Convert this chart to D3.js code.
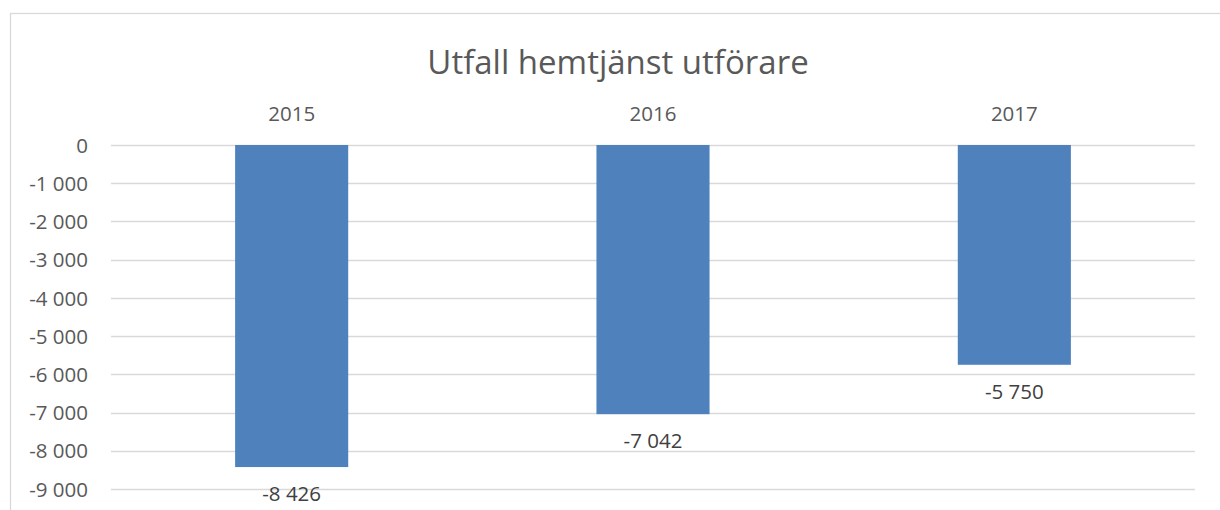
<!DOCTYPE html>
<html><head><meta charset="utf-8">
<script src="https://cdn.jsdelivr.net/npm/d3@7"></script>
<style>body{margin:0;background:#fff;} svg{display:block;} text{font-family:"Open Sans",sans-serif;}</style>
</head><body>
<svg id="c" width="1220" height="510"></svg>
<script>
const title = "Utfall hemtjänst utförare";
const categories = ["2015", "2016", "2017"];
const values = [-8426, -7042, -5750];
const yTicks = [0, -1000, -2000, -3000, -4000, -5000, -6000, -7000, -8000, -9000];

const svg = d3.select("#c");
const margin = {left: 111, right: 25};
const W = 1220;

// outer frame
svg.append("rect").attr("x", 10.5).attr("y", 13.5).attr("width", 1240).attr("height", 560)
  .attr("fill", "none").attr("stroke", "#d9d9d9").attr("stroke-width", 1.3);

const x = d3.scaleBand().domain(categories).range([margin.left, W - margin.right]).paddingInner(0.687).paddingOuter(0.3435);
const y = d3.scaleLinear().domain([0, -9000]).range([145, 489]);

const fmt = v => d3.format(",")(v).replace(/,/g, " ").replace("\u2212", "-");

// gridlines
svg.append("g").selectAll("line").data(yTicks).join("line")
  .attr("x1", margin.left).attr("x2", W - margin.right)
  .attr("y1", d => Math.round(y(d)) + 0.5).attr("y2", d => Math.round(y(d)) + 0.5)
  .attr("stroke", "#d9d9d9").attr("stroke-width", 1.3);

// y axis labels
const yAxis = d3.axisLeft(y).tickValues(yTicks).tickFormat(fmt).tickSize(0).tickPadding(0);
const ga = svg.append("g").attr("transform", "translate(88,0)").call(yAxis);
ga.select(".domain").remove();
ga.selectAll("text").attr("font-size", 20.5).attr("fill", "#595959").attr("font-family", "Open Sans, sans-serif").attr("dy", "0.35em");

// bars
svg.append("g").selectAll("rect").data(values).join("rect")
  .attr("x", (d, i) => x(categories[i]))
  .attr("width", x.bandwidth())
  .attr("y", y(0))
  .attr("height", d => y(d) - y(0))
  .attr("fill", "#4f81bd");

// category labels at top
const xAxis = d3.axisTop(x).tickSize(0).tickPadding(0);
const gx = svg.append("g").attr("transform", "translate(0,121)").call(xAxis);
gx.select(".domain").remove();
gx.selectAll("text").attr("font-size", 20.5).attr("fill", "#595959").attr("font-family", "Open Sans, sans-serif").attr("dy", 0);

// value labels
svg.append("g").selectAll("text").data(values).join("text")
  .attr("x", (d, i) => x(categories[i]) + x.bandwidth() / 2)
  .attr("y", d => y(d) + 34)
  .attr("text-anchor", "middle")
  .attr("font-size", 20.5).attr("fill", "#404040")
  .text(d => fmt(d));

// title
svg.append("text").attr("x", 618).attr("y", 74).attr("text-anchor", "middle")
  .attr("font-size", 33).attr("fill", "#595959").text(title);
</script>
</body></html>
